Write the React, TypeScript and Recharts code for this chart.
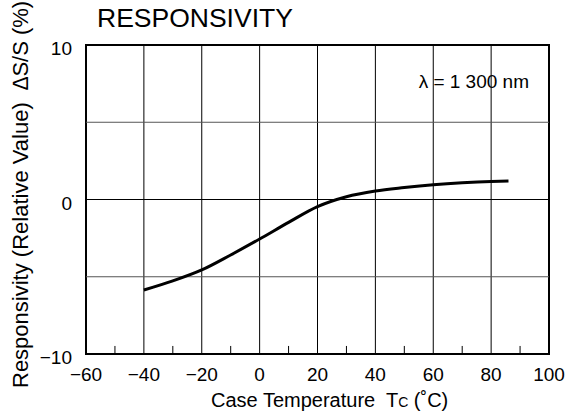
import React from 'react';
import { LineChart, Line, XAxis, YAxis, ReferenceLine, ReferenceArea } from 'recharts';

// values
const temps = [-40, -30, -20, -10, 0, 10, 20, 30, 40, 50, 60, 70, 80, 86];
const responsivity = [-5.86, -5.27, -4.56, -3.59, -2.56, -1.48, -0.46, 0.18, 0.55, 0.77, 0.95, 1.08, 1.17, 1.2];

const xTicks = [-60, -40, -20, 0, 20, 40, 60, 80, 100];
const yTicks = [-10, 0, 10];
const vGrid = [-40, -20, 0, 20, 40, 60, 80];
const hGrid = [-5, 0, 5];
const minorTicks = [-50, -30, -10, 10, 30, 50, 70, 90];

const data = temps.map((t, i) => ({ t, r: responsivity[i] }));

const FONT = '"Liberation Sans", Arial, Helvetica, sans-serif';

const fmt = (v: number) => (v < 0 ? '\u2212' + Math.abs(v) : String(v));

const XTick = (props: any) => {
  const { x, y, payload } = props;
  return (
    <text x={x} y={y + 25} textAnchor="middle" fontSize={19} fontFamily={FONT} fill="#000">
      {fmt(payload.value)}
    </text>
  );
};

const YTick = (props: any) => {
  const { x, y, payload } = props;
  return (
    <text x={x - 12} y={y + 10} textAnchor="end" fontSize={19} fontFamily={FONT} fill="#000">
      {fmt(payload.value)}
    </text>
  );
};

export default function App() {
  return (
    <div style={{ position: 'absolute', left: 0, top: 0, width: 576, height: 418, background: '#fff' }}>
      <LineChart
        width={576}
        height={418}
        data={data}
        margin={{ top: 45, right: 27, left: 26, bottom: 34 }}
      >
        <XAxis
          dataKey="t"
          type="number"
          domain={[-60, 100]}
          ticks={xTicks}
          tick={XTick}
          tickLine={false}
          tickSize={0}
          axisLine={false}
          height={30}
          interval={0}
        />
        <YAxis
          type="number"
          domain={[-10, 10]}
          ticks={yTicks}
          tick={YTick}
          tickLine={false}
          tickSize={0}
          axisLine={false}
          width={60}
          interval={0}
        />
        {vGrid.map((v) => (
          <ReferenceLine key={'v' + v} x={v} stroke="#000" strokeWidth={1} />
        ))}
        {hGrid.map((h) => (
          <ReferenceLine key={'h' + h} y={h} stroke={h === 0 ? '#000' : '#555'} strokeWidth={1} />
        ))}
        {minorTicks.map((m) => (
          <ReferenceLine
            key={'m' + m}
            segment={[{ x: m, y: -10 }, { x: m, y: -9.48 }]}
            stroke="#000"
            strokeWidth={1}
          />
        ))}
        <ReferenceArea x1={-60} x2={100} y1={-10} y2={10} fill="none" stroke="#000" strokeWidth={2} />
        <Line
          type="monotone"
          dataKey="r"
          stroke="#000"
          strokeWidth={3}
          dot={false}
          isAnimationActive={false}
        />
      </LineChart>
      <svg
        width={576}
        height={418}
        style={{ position: 'absolute', left: 0, top: 0, pointerEvents: 'none' }}
        fontFamily={FONT}
      >
        <text x={97} y={27} fontSize={26.5} fill="#000">RESPONSIVITY</text>
        <text x={529} y={88} fontSize={19} textAnchor="end" fill="#000">λ = 1 300 nm</text>
        <text x={211} y={407} fontSize={20} fill="#000" style={{ whiteSpace: 'pre' }}>
          {'Case Temperature  T'}
          <tspan fontSize={14}>C</tspan>
          {' (˚C)'}
        </text>
        <text
          x={28}
          y={388}
          fontSize={22}
          fill="#000"
          transform="rotate(-90 28 388)"
          style={{ whiteSpace: 'pre' }}
        >
          {'Responsivity (Relative Value)  '}
          <tspan fontStyle="italic">∆</tspan>
          {'S/S (%)'}
        </text>
      </svg>
    </div>
  );
}
